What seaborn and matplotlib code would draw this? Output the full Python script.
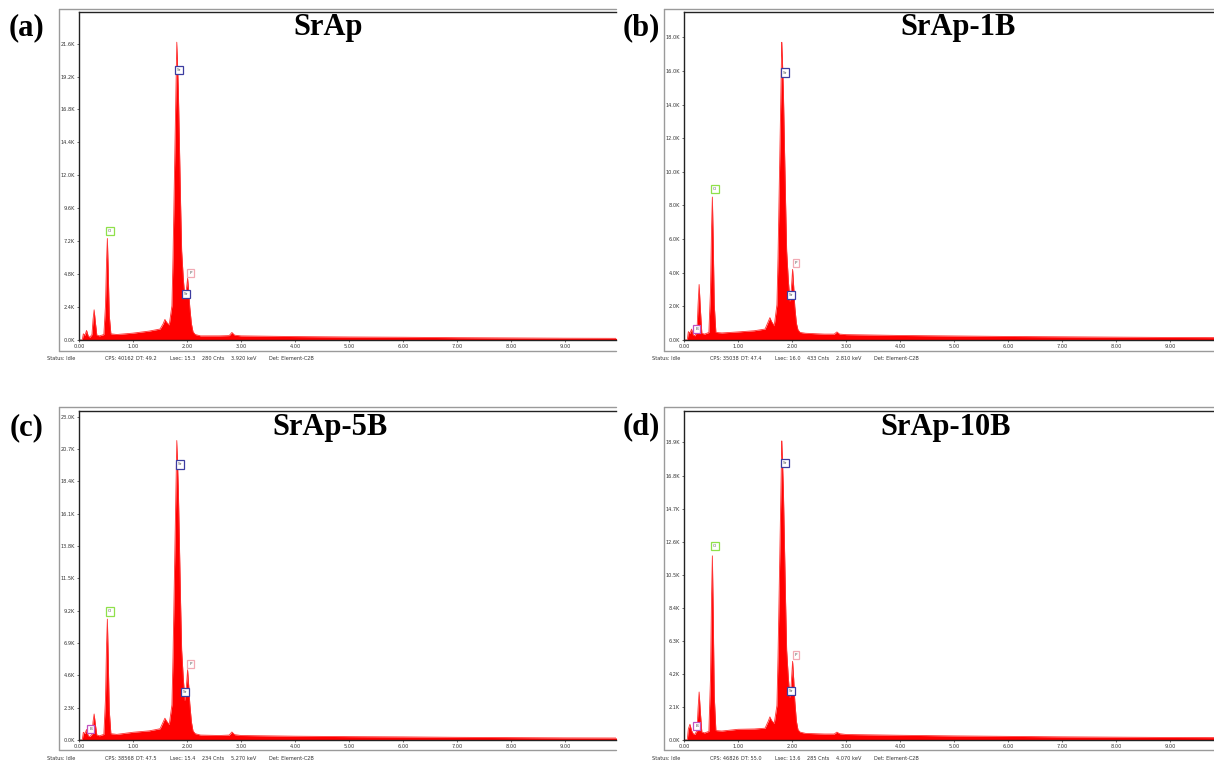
import matplotlib
matplotlib.use("Agg")
import matplotlib.pyplot as plt
from matplotlib.lines import Line2D
import seaborn as sns
import pandas as pd

# energie-as (keV), gedeeld door alle vier de spectra
energy = [0.00, 0.06, 0.08, 0.11, 0.14, 0.17, 0.20, 0.24, 0.26, 0.28, 0.30, 0.33,
          0.38, 0.46, 0.49, 0.51, 0.525, 0.54, 0.56, 0.59, 0.70, 1.00, 1.30, 1.50,
          1.56, 1.59, 1.62, 1.67, 1.72, 1.74, 1.76, 1.78, 1.80, 1.81, 1.82, 1.84,
          1.86, 1.88, 1.90, 1.93, 1.96, 1.98, 2.01, 2.03, 2.05, 2.08, 2.11, 2.15,
          2.25, 2.60, 2.78, 2.83, 2.88, 3.00, 4.00, 5.00, 6.00, 7.00, 8.00, 9.00, 10.00]

counts_a = [0, 0, 0.45, 0.35, 0.7, 0.3, 0.2, 0.4, 1.5, 2.2, 1.4, 0.35,
            0.3, 0.4, 2.5, 5.8, 7.4, 5.2, 1.8, 0.45, 0.4, 0.5, 0.65, 0.8,
            1.2, 1.5, 1.3, 1.1, 2.5, 6.0, 10.5, 15.0, 19.5, 21.7, 20.5, 18.0,
            14.0, 10.0, 6.5, 4.5, 3.0, 3.4, 4.5, 3.6, 2.4, 1.2, 0.6, 0.4,
            0.3, 0.3, 0.32, 0.55, 0.35, 0.3, 0.25, 0.22, 0.2, 0.17, 0.15, 0.13, 0.12]
counts_b = [0, 0, 0.5, 0.4, 0.65, 0.3, 0.25, 0.5, 2.1, 3.3, 2.0, 0.4,
            0.35, 0.45, 2.9, 6.7, 8.5, 6.0, 2.1, 0.45, 0.42, 0.48, 0.55, 0.65,
            1.1, 1.33, 1.1, 0.85, 2.1, 4.9, 8.6, 12.2, 16.0, 17.7, 16.8, 14.7,
            11.4, 8.2, 5.3, 3.6, 2.3, 2.7, 4.2, 3.2, 2.0, 1.0, 0.6, 0.45,
            0.4, 0.35, 0.35, 0.48, 0.35, 0.32, 0.27, 0.24, 0.21, 0.19, 0.17, 0.15, 0.14]
counts_c = [0, 0, 0.55, 0.45, 0.75, 0.3, 0.25, 0.4, 1.3, 1.85, 1.2, 0.35,
            0.3, 0.4, 2.9, 6.8, 8.6, 6.0, 2.1, 0.45, 0.4, 0.55, 0.65, 0.8,
            1.3, 1.55, 1.35, 1.1, 2.5, 5.9, 10.3, 14.7, 19.1, 21.3, 20.1, 17.6,
            13.7, 9.8, 6.4, 4.4, 2.8, 3.4, 5.0, 3.9, 2.6, 1.3, 0.65, 0.45,
            0.35, 0.32, 0.35, 0.57, 0.38, 0.32, 0.27, 0.24, 0.22, 0.19, 0.17, 0.15, 0.14]
counts_d = [0, 0, 0.7, 1.0, 0.6, 0.4, 0.35, 0.6, 2.0, 3.05, 1.9, 0.5,
            0.45, 0.55, 3.9, 9.2, 11.7, 8.2, 2.8, 0.6, 0.57, 0.68, 0.7, 0.75,
            1.2, 1.47, 1.25, 1.05, 2.2, 5.3, 9.2, 13.1, 17.1, 19.0, 18.0, 15.8,
            12.3, 8.8, 5.7, 4.0, 2.7, 3.3, 5.0, 3.9, 2.5, 1.2, 0.65, 0.5,
            0.42, 0.38, 0.38, 0.5, 0.4, 0.35, 0.3, 0.26, 0.23, 0.2, 0.18, 0.16, 0.15]

titles = ["SrAp", "SrAp-1B", "SrAp-5B", "SrAp-10B"]
tags = ["(a)", "(b)", "(c)", "(d)"]

xticks = [0, 1, 2, 3, 4, 5, 6, 7, 8, 9]
yticks_a = [0.0, 2.4, 4.8, 7.2, 9.6, 12.0, 14.4, 16.8, 19.2, 21.6]
yticks_b = [0.0, 2.0, 4.0, 6.0, 8.0, 10.0, 12.0, 14.0, 16.0, 18.0]
yticks_c = [0.0, 2.3, 4.6, 6.9, 9.2, 11.5, 13.8, 16.1, 18.4, 20.7, 23.0]
yticks_d = [0.0, 2.1, 4.2, 6.3, 8.4, 10.5, 12.6, 14.7, 16.8, 18.9]

status_a = ["Status: Idle", "CPS: 40162", "DT: 49.2", "Lsec: 15.3", "280 Cnts", "3.920 keV", "Det: Element-C2B"]
status_b = ["Status: Idle", "CPS: 35038", "DT: 47.4", "Lsec: 16.0", "433 Cnts", "2.810 keV", "Det: Element-C2B"]
status_c = ["Status: Idle", "CPS: 38568", "DT: 47.5", "Lsec: 15.4", "234 Cnts", "5.270 keV", "Det: Element-C2B"]
status_d = ["Status: Idle", "CPS: 46826", "DT: 55.0", "Lsec: 13.6", "285 Cnts", "4.070 keV", "Det: Element-C2B"]

# element-labels (x in keV, y in K)
elem_a = ["Sr", "O", "P", "Sr"]
elem_x_a = [1.85, 0.57, 2.07, 1.98]
elem_y_a = [19.7, 7.96, 4.9, 3.36]
elem_b = ["Sr", "O", "P", "Sr", "B"]
elem_x_b = [1.87, 0.57, 2.07, 1.98, 0.24]
elem_y_b = [15.9, 9.0, 4.6, 2.7, 0.66]
elem_c = ["Sr", "O", "P", "Sr", "B"]
elem_x_c = [1.87, 0.57, 2.07, 1.96, 0.22]
elem_y_c = [19.6, 9.14, 5.4, 3.4, 0.79]
elem_d = ["Sr", "O", "P", "Sr", "B"]
elem_x_d = [1.87, 0.57, 2.07, 1.98, 0.24]
elem_y_d = [17.6, 12.3, 5.4, 3.1, 0.9]

elem_colors = {"Sr": "#3c3ca0", "O": "#8fe04a", "P": "#f2aab4", "B": "#c050c0"}

W, H = 1214, 762

sns.set_style("white")
plt.rcParams['font.family'] = ['DejaVu Sans']

fig = plt.figure(figsize=(W / 100, H / 100), dpi=100)

# layout in pixels: axes (x0, y0, x1, y1), outer frame, tag/title centre, status row
panels = [
    dict(counts=counts_a, yt=yticks_a, st=status_a, el=(elem_a, elem_x_a, elem_y_a),
         ax=(79, 12, 616, 340), frame=(59, 9, 616, 351), ymax=23.9, xmax=9.94,
         tag=(27, 28), title=(328, 28), sy=358, sx0=0),
    dict(counts=counts_b, yt=yticks_b, st=status_b, el=(elem_b, elem_x_b, elem_y_b),
         ax=(684, 12, 1214, 340), frame=(664, 9, 1214, 351), ymax=19.5, xmax=9.81,
         tag=(641, 28), title=(958, 28), sy=358, sx0=605),
    dict(counts=counts_c, yt=yticks_c, st=status_c, el=(elem_c, elem_x_c, elem_y_c),
         ax=(79, 411, 616, 740), frame=(59, 407, 616, 750), ymax=23.4, xmax=9.94,
         tag=(27, 428), title=(330, 428), sy=758, sx0=0),
    dict(counts=counts_d, yt=yticks_d, st=status_d, el=(elem_d, elem_x_d, elem_y_d),
         ax=(684, 411, 1214, 740), frame=(664, 407, 1214, 750), ymax=20.9, xmax=9.81,
         tag=(641, 427), title=(946, 428), sy=758, sx0=605),
]
status_x = [47, 105, 136, 170, 202, 231, 269]

for i, p in enumerate(panels):
    x0, y0, x1, y1 = p['ax']
    ax = fig.add_axes([x0 / W, 1 - y1 / H, (x1 - x0) / W, (y1 - y0) / H])
    df = pd.DataFrame({'keV': energy, 'K': p['counts']})
    ax.fill_between(df['keV'], 0, df['K'], color='#ff0000', lw=0)
    sns.lineplot(data=df, x='keV', y='K', ax=ax, color='#ff3030', linewidth=0.6)
    ax.set_xlim(0, p['xmax'])
    ax.set_ylim(0, p['ymax'])
    ax.set_xlabel('')
    ax.set_ylabel('')
    ax.set_xticks(xticks)
    ax.set_xticklabels(['%.2f' % v for v in xticks])
    ax.set_yticks(p['yt'])
    ax.set_yticklabels(['%.1fK' % v for v in p['yt']])
    ax.tick_params(axis='both', labelsize=3.6, colors='#333333', length=1.5, width=0.5, pad=1.5,
                   direction='out', left=True, bottom=True)
    for s in ['left', 'top', 'bottom']:
        ax.spines[s].set_color('#222222')
        ax.spines[s].set_linewidth(1.0)
    ax.spines['right'].set_visible(False)

    names, ex, ey = p['el']
    for n, xv, yv in zip(names, ex, ey):
        ax.text(xv, yv, n, fontsize=3.0, color='#555555', ha='center', va='center',
                bbox=dict(boxstyle='square,pad=0.5', fc='white', ec=elem_colors[n], lw=0.9))

    # buitenste grijze kader van het venster
    fx0, fy0, fx1, fy1 = p['frame']
    for xs, ys in [((fx0, fx0), (fy0, fy1)), ((fx0, fx1), (fy0, fy0)), ((fx0, fx1), (fy1, fy1))]:
        fig.add_artist(Line2D([v / W for v in xs], [1 - v / H for v in ys],
                              color='#9a9a9a', lw=1.0))

    fig.text(p['tag'][0] / W, 1 - p['tag'][1] / H, tags[i], ha='center', va='center',
             fontsize=22, fontweight='bold', family='Liberation Serif', color='black')
    fig.text(p['title'][0] / W, 1 - p['title'][1] / H, titles[i], ha='center', va='center',
             fontsize=22, fontweight='bold', family='Liberation Serif', color='black')

    for sx, s in zip(status_x, p['st']):
        fig.text((sx + p['sx0']) / W, 1 - p['sy'] / H, s, ha='left', va='center',
                 fontsize=3.6, color='#333333')

fig.savefig('out.png', dpi=100, facecolor='white')
